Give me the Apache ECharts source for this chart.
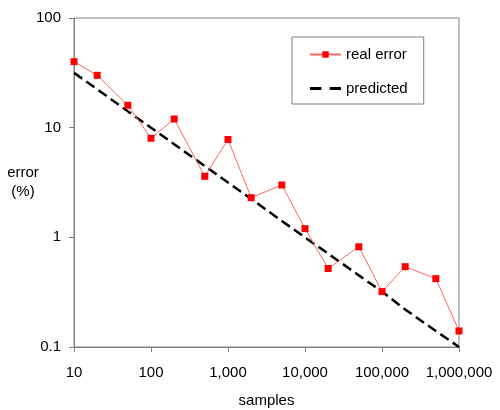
<!DOCTYPE html>
<html>
<head>
<meta charset="utf-8">
<script src="https://cdn.jsdelivr.net/npm/echarts@6/dist/echarts.min.js"></script>
<style>
  html, body { margin: 0; padding: 0; background: #fff; }
  #chart { width: 500px; height: 410px; }
</style>
</head>
<body>
<div id="chart"></div>
<script>
const SAMPLES = [10, 20, 50, 100, 200, 500, 1000, 2000, 5000, 10000, 20000, 50000, 100000, 200000, 500000, 1000000];
const REAL_ERROR = [40, 30, 16, 8, 12, 3.6, 7.8, 2.3, 3.0, 1.2, 0.52, 0.82, 0.32, 0.54, 0.42, 0.14];
const PREDICTED = [31.6, 22.4, 14.1, 10, 7.07, 4.47, 3.16, 2.24, 1.41, 1, 0.71, 0.45, 0.32, 0.22, 0.14, 0.1];

const FONT = "Liberation Sans, Arial, sans-serif";
const AXIS_GRAY = "#808080";

const chart = echarts.init(document.getElementById("chart"), null, { renderer: "canvas" });

chart.setOption({
  animation: false,
  backgroundColor: "#fff",
  textStyle: { fontFamily: FONT, color: "#000" },
  grid: {
    left: 74, right: 41, top: 18, bottom: 63,
    outerBoundsMode: "none",
    containLabel: false,
    show: true, borderColor: AXIS_GRAY, borderWidth: 1, backgroundColor: "transparent"
  },
  legend: {
    orient: "vertical",
    left: 292, top: 37,
    padding: [10, 16, 8, 17],
    itemGap: 19,
    itemWidth: 31,
    itemHeight: 8,
    borderColor: AXIS_GRAY,
    borderWidth: 1,
    textStyle: { fontFamily: FONT, fontSize: 15, color: "#000" },
    data: [
      { name: "real error" },
      // dashed line icon for the predicted curve
      { name: "predicted", icon: "path://M0,0H11V3H0Z M19,0H30V3H19Z" }
    ]
  },
  xAxis: {
    type: "log",
    logBase: 10,
    min: 10,
    max: 1000000,
    name: "samples",
    nameLocation: "middle",
    nameGap: 46,
    nameMoveOverlap: false,
    nameTextStyle: { fontFamily: FONT, fontSize: 15, color: "#000" },
    axisLine: { lineStyle: { color: AXIS_GRAY, width: 1 } },
    axisTick: { show: true, length: 5, lineStyle: { color: AXIS_GRAY } },
    minorTick: { show: false },
    splitLine: { show: false },
    axisLabel: {
      margin: 18,
      fontFamily: FONT, fontSize: 15, color: "#000",
      formatter: (v) => Number(v).toLocaleString("en-US")
    }
  },
  yAxis: {
    type: "log",
    logBase: 10,
    min: 0.1,
    max: 100,
    name: "error\n(%)",
    nameLocation: "middle",
    nameRotate: 0,
    nameGap: 51,
    nameMoveOverlap: false,
    nameTextStyle: {
      fontFamily: FONT, fontSize: 15, color: "#000", align: "center", lineHeight: 19,
      backgroundColor: "rgba(255,255,255,0)", padding: [6, 0, 0, 0]
    },
    axisLine: { show: true, lineStyle: { color: AXIS_GRAY, width: 1 } },
    axisTick: { show: true, length: 5, lineStyle: { color: AXIS_GRAY } },
    minorTick: { show: false },
    splitLine: { show: false },
    axisLabel: {
      margin: 13,
      fontFamily: FONT, fontSize: 15, color: "#000",
      formatter: (v) => String(Number(v))
    }
  },
  series: [
    {
      name: "real error",
      type: "line",
      data: SAMPLES.map((x, i) => [x, REAL_ERROR[i]]),
      symbol: "rect",
      symbolSize: 7,
      itemStyle: { color: "#ff0000" },
      lineStyle: { color: "#ff6666", width: 1 },
      z: 3
    },
    {
      name: "predicted",
      type: "line",
      data: SAMPLES.map((x, i) => [x, PREDICTED[i]]),
      symbol: "none",
      itemStyle: { color: "#000" },
      lineStyle: { color: "#000", width: 2.5, type: [10, 5] },
      z: 2
    }
  ]
});
</script>
</body>
</html>
